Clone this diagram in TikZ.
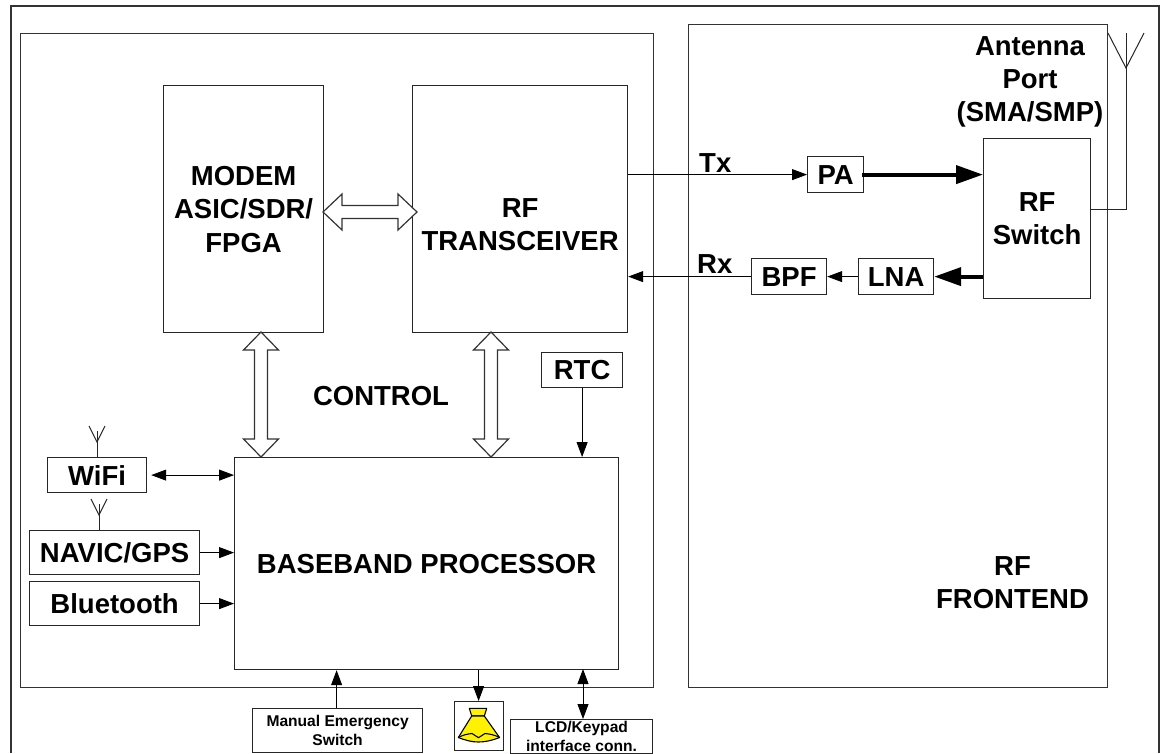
\documentclass[tikz,border=0pt]{standalone}
\usepackage{fontspec}
\setmainfont{Liberation Sans}
\usetikzlibrary{arrows.meta,positioning}
\tikzset{
  panel/.style={draw=black!80,line width=1pt,fill=none},
  blk/.style={draw=black!85,line width=1.2pt,fill=white,align=center,font=\fontsize{27.5}{33.5}\selectfont\bfseries,inner sep=0pt},
  lab/.style={align=center,font=\fontsize{27.5}{33}\selectfont\bfseries,inner sep=0pt},
  small/.style={font=\fontsize{15.6}{19}\selectfont\bfseries},
  conn/.style={draw=black,line width=0.9pt,-{Triangle[length=15pt,width=11pt]}},
  bidir/.style={draw=black,line width=0.9pt,{Triangle[length=15pt,width=11pt]}-{Triangle[length=15pt,width=11pt]}},
  thick conn/.style={draw=black,line width=4pt,-{Triangle[length=27pt,width=18pt]}},
  plain/.style={draw=black!85,line width=1pt},
  hollow/.style={draw=black!80,line width=1.2pt,fill=white,line join=miter},
}
\newcommand{\boxat}[7][]{\node[blk,#1,minimum width=#4pt-#3pt,minimum height=#6pt-#5pt,anchor=north west] (#2) at (#3,#5) {#7};}
\begin{document}
\begin{tikzpicture}[x=1pt,y=-1pt]
\useasboundingbox (0,0) rectangle (1161,753);
\draw[panel,line width=1.6pt] (11,753) -- (11,6) -- (1159,6) -- (1159,753);
\draw[panel] (20,33) rectangle (653,687);
\draw[panel] (688,24) rectangle (1107,687);
\boxat{modem}{163}{323}{85}{332}{MODEM\\ASIC/SDR/\\FPGA}
\boxat[label={[lab,yshift=-16pt]center:RF\\TRANSCEIVER}]{trx}{412}{627}{85}{332}{}
\boxat{bb}{234}{618}{457}{669}{BASEBAND PROCESSOR}
\boxat{rtc}{541}{622}{352}{387}{RTC}
\boxat{wifi}{47}{146}{457}{492}{WiFi}
\boxat{navic}{29}{199}{530}{574}{NAVIC/GPS}
\boxat{bt}{29}{199}{581}{625}{Bluetooth}
\boxat[small]{sw}{252}{422}{708}{752}{Manual Emergency\\Switch}
\boxat{spk}{454}{503}{701}{750}{}
\boxat[small]{lcd}{510}{652}{719}{752.5}{LCD/Keypad\\interface conn.}
\boxat{pa}{807}{863}{156}{192}{PA}
\boxat{bpf}{751}{826}{258}{294}{BPF}
\boxat{lna}{858}{933}{258}{294}{LNA}
\boxat{rfsw}{983}{1090}{138}{298}{RF\\Switch}
\node[lab] (control) at (381,396) {CONTROL};
\node[lab] (ant) at (1030,82) {Antenna\\Port\\(SMA/SMP)};
\node[lab] (fe) at (1012.5,583) {RF\\FRONTEND};
\node[lab,anchor=base west] (tx) at (699,172) {Tx};
\node[lab,anchor=base west] (rx) at (697,273) {Rx};
% hollow arrows
\coordinate (m1) at (261,332); \coordinate (b1) at (261,457);
\coordinate (t1) at (491,332); \coordinate (b2) at (491,457);
\draw[hollow] (m1) -- ++(17.5,18) -- ++(-11,0) -- (267.5,439) -- ++(11,0) -- (b1) -- (243.5,439) -- ++(11,0) -- (254.5,350) -- ++(-11,0) -- cycle;
\draw[hollow] (t1) -- ++(17.5,18) -- ++(-11,0) -- (497.5,439) -- ++(11,0) -- (b2) -- (473.5,439) -- ++(11,0) -- (484.5,350) -- ++(-11,0) -- cycle;
\coordinate (h1) at (323,212); \coordinate (h2) at (417,212);
\draw[hollow] (h1) -- (342,194) -- (342,205.5) -- (398,205.5) -- (398,194) -- (h2) -- (398,230) -- (398,218.5) -- (342,218.5) -- (342,230) -- cycle;
% connectors
\draw[conn] (trx.east |- pa.west) -- (pa.west);
\draw[conn] (bpf.west) -- (trx.east |- bpf.west);
\draw[conn] (lna.west) -- (bpf.east);
\draw[thick conn] ([xshift=-2pt]pa.east) -- (pa.east -| rfsw.west);
\draw[thick conn] (lna.east -| rfsw.west) -- (lna.east);
\draw[conn] (rtc.south) -- (rtc.south |- bb.north);
\draw[bidir] ([xshift=4pt]wifi.east) -- (wifi.east -| bb.west);
\draw[conn] (navic.east) -- (navic.east -| bb.west);
\draw[conn] (bt.east) -- (bt.east -| bb.west);
\draw[conn] ([xshift=-1pt]sw.north) -- ([xshift=-1pt]sw.north |- bb.south);
\draw[conn] ([xshift=-0.5pt]spk.north |- bb.south) -- ([xshift=-0.5pt]spk.north);
\draw[bidir] (583,669) -- (583,719);
% antennas
\draw[plain] (rfsw.east |- 0,209) -- (1126,209) -- (1126,33);
\draw[plain] (1108,33) -- (1126,68) -- (1144,33);
\draw[plain] (wifi.north -| 97,0) -- (97,431);
\draw[plain] (89,426) -- (97,442) -- (105,426);
\draw[plain] (navic.north -| 99,0) -- (99,504);
\draw[plain] (91,499) -- (99,515) -- (107,499);
% speaker
\draw[fill=yellow,draw=black,line width=1.1pt,line join=round] (469.3,708.3) -- (486.7,708.3) -- (484.3,716) -- (471.7,716) -- cycle;
\draw[fill=yellow,draw=black,line width=1.1pt,line join=round] (471.7,716) -- (458.3,737.5) .. controls (466,740.5) and (472,742) .. (478.5,742) .. controls (485,742) and (492,740.5) .. (499.5,737.5) -- (484.3,716) -- cycle;
\draw[black,line width=1.1pt,line join=round] (458.3,737.5) .. controls (463,735) and (467,734) .. (472,733.5) -- (478.5,737.7) -- (485,733.5) .. controls (490,734) and (495,735) .. (499.5,737.5);
\end{tikzpicture}
\end{document}
